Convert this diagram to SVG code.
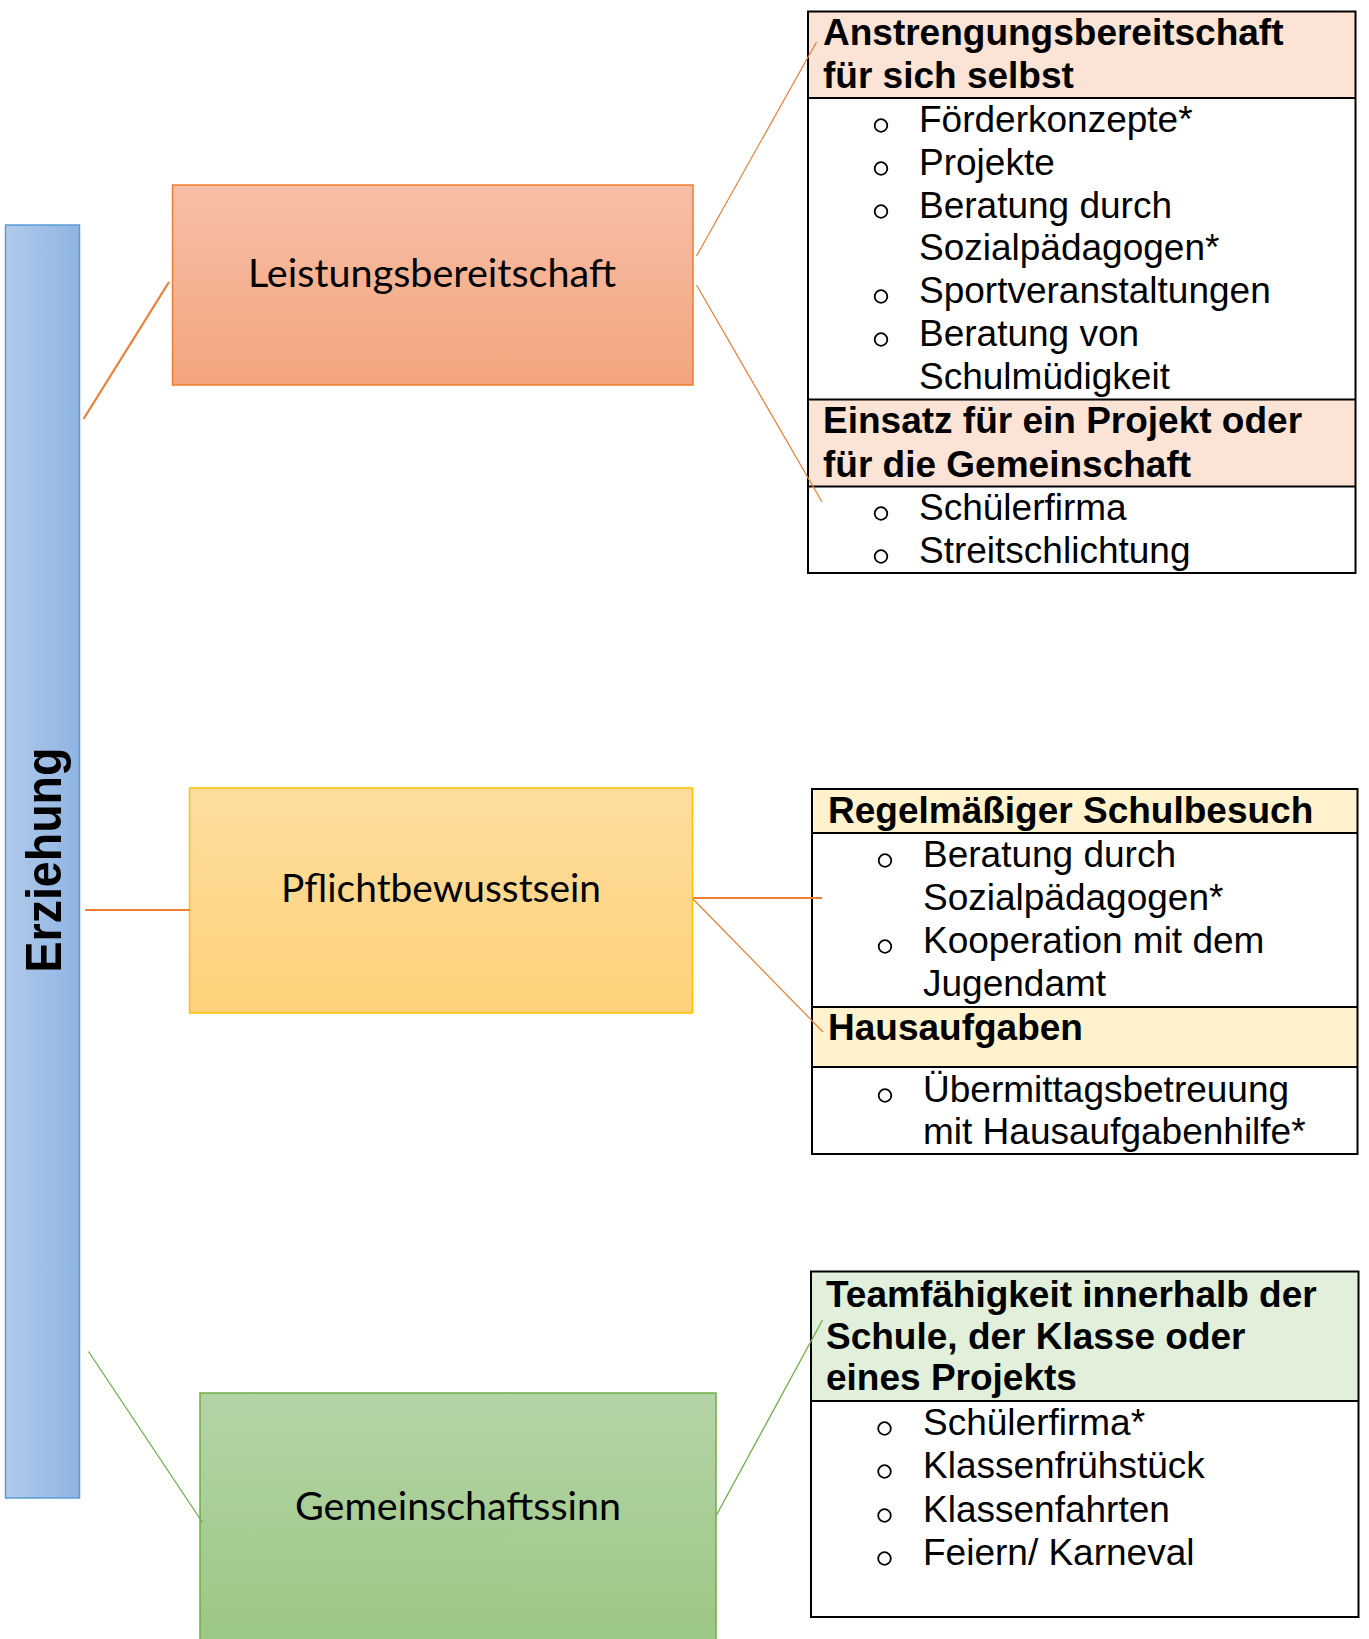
<svg xmlns="http://www.w3.org/2000/svg" width="1369" height="1639" viewBox="0 0 1369 1639">
<defs>
<linearGradient id="gBlue" x1="0" y1="0" x2="1" y2="0">
<stop offset="0" stop-color="#B1CAE9"/><stop offset="1" stop-color="#8EB4E3"/>
</linearGradient>
<linearGradient id="gOrange" x1="0" y1="0" x2="0" y2="1">
<stop offset="0" stop-color="#F7BFA6"/><stop offset="1" stop-color="#F4A47F"/>
</linearGradient>
<linearGradient id="gYellow" x1="0" y1="0" x2="0" y2="1">
<stop offset="0" stop-color="#FEDD9D"/><stop offset="1" stop-color="#FED27B"/>
</linearGradient>
<linearGradient id="gGreen" x1="0" y1="0" x2="0" y2="1">
<stop offset="0" stop-color="#B5D4A6"/><stop offset="1" stop-color="#9BC682"/>
</linearGradient>
</defs>
<style>
.node-label{font-family:Lato,"Open Sans",sans-serif;font-size:38px;fill:#000;text-anchor:middle}
.hdr{font-family:"Liberation Sans",Arial,sans-serif;font-size:37px;font-weight:bold;fill:#000}
.item{font-family:"Liberation Sans",Arial,sans-serif;font-size:37px;fill:#000}
.bul{fill:none;stroke:#000;stroke-width:1.8}
.tbl{fill:none;stroke:#000;stroke-width:2}
.co{stroke:#ED7D31;fill:none}
.cg{stroke:#70AD47;fill:none}
</style>
<rect width="1369" height="1639" fill="#FFFFFF"/>

<g id="erziehung">
<rect x="5.5" y="225" width="74" height="1273" fill="url(#gBlue)" stroke="#5B9BD5" stroke-width="1.5"/>
<text transform="translate(61,860) rotate(-90)" text-anchor="middle" font-family="'Liberation Sans',Arial,sans-serif" font-weight="bold" font-size="50" textLength="225" lengthAdjust="spacingAndGlyphs">Erziehung</text>
</g>

<g id="leistungsbereitschaft">
<rect x="172.5" y="185" width="520.5" height="200" fill="url(#gOrange)" stroke="#ED7D31" stroke-width="1.5"/>
<text class="node-label" x="432" y="287" textLength="368" lengthAdjust="spacingAndGlyphs">Leistungsbereitschaft</text>
</g>

<g id="pflichtbewusstsein">
<rect x="189.5" y="788" width="503" height="225" fill="url(#gYellow)" stroke="#FFC000" stroke-width="1.5"/>
<text class="node-label" x="441" y="902" textLength="320" lengthAdjust="spacingAndGlyphs">Pflichtbewusstsein</text>
</g>

<g id="gemeinschaftssinn">
<rect x="200" y="1393" width="516" height="262" fill="url(#gGreen)" stroke="#70AD47" stroke-width="1.5"/>
<text class="node-label" x="458" y="1520" textLength="326" lengthAdjust="spacingAndGlyphs">Gemeinschaftssinn</text>
</g>

<g id="table-leistung">
<rect x="808" y="11.5" width="547.5" height="86.5" fill="#FBE3D6"/>
<rect x="808" y="399.5" width="547.5" height="87" fill="#FBE3D6"/>
<rect class="tbl" x="808" y="11.5" width="547.5" height="561.5"/>
<line class="tbl" x1="808" y1="98" x2="1355.5" y2="98"/>
<line class="tbl" x1="808" y1="399.5" x2="1355.5" y2="399.5"/>
<line class="tbl" x1="808" y1="486.5" x2="1355.5" y2="486.5"/>
<text class="hdr" x="823" y="45">Anstrengungsbereitschaft</text>
<text class="hdr" x="823" y="88">für sich selbst</text>
<circle class="bul" cx="881" cy="125.5" r="6.3"/>
<text class="item" x="919" y="132">Förderkonzepte*</text>
<circle class="bul" cx="881" cy="168.5" r="6.3"/>
<text class="item" x="919" y="175">Projekte</text>
<circle class="bul" cx="881" cy="211.5" r="6.3"/>
<text class="item" x="919" y="218">Beratung durch</text>
<text class="item" x="919" y="260">Sozialpädagogen*</text>
<circle class="bul" cx="881" cy="296.5" r="6.3"/>
<text class="item" x="919" y="303">Sportveranstaltungen</text>
<circle class="bul" cx="881" cy="339.5" r="6.3"/>
<text class="item" x="919" y="346">Beratung von</text>
<text class="item" x="919" y="389">Schulmüdigkeit</text>
<text class="hdr" x="823" y="433">Einsatz für ein Projekt oder</text>
<text class="hdr" x="823" y="477">für die Gemeinschaft</text>
<circle class="bul" cx="881" cy="513.5" r="6.3"/>
<text class="item" x="919" y="520">Schülerfirma</text>
<circle class="bul" cx="881" cy="556.5" r="6.3"/>
<text class="item" x="919" y="563">Streitschlichtung</text>
</g>

<g id="table-pflicht">
<rect x="812" y="789" width="545.5" height="44" fill="#FFF2CC"/>
<rect x="812" y="1007" width="545.5" height="60" fill="#FFF2CC"/>
<rect class="tbl" x="812" y="789" width="545.5" height="365"/>
<line class="tbl" x1="812" y1="833" x2="1357.5" y2="833"/>
<line class="tbl" x1="812" y1="1007" x2="1357.5" y2="1007"/>
<line class="tbl" x1="812" y1="1067" x2="1357.5" y2="1067"/>
<text class="hdr" x="828" y="823">Regelmäßiger Schulbesuch</text>
<circle class="bul" cx="885" cy="860.5" r="6.3"/>
<text class="item" x="923" y="867">Beratung durch</text>
<text class="item" x="923" y="910">Sozialpädagogen*</text>
<circle class="bul" cx="885" cy="946.5" r="6.3"/>
<text class="item" x="923" y="953">Kooperation mit dem</text>
<text class="item" x="923" y="996">Jugendamt</text>
<text class="hdr" x="828" y="1040">Hausaufgaben</text>
<circle class="bul" cx="885" cy="1095.5" r="6.3"/>
<text class="item" x="923" y="1102">Übermittagsbetreuung</text>
<text class="item" x="923" y="1144">mit Hausaufgabenhilfe*</text>
</g>

<g id="table-gemeinschaft">
<rect x="811" y="1271.5" width="547.5" height="129.5" fill="#E2EFDA"/>
<rect class="tbl" x="811" y="1271.5" width="547.5" height="345.5"/>
<line class="tbl" x1="811" y1="1401" x2="1358.5" y2="1401"/>
<text class="hdr" x="826" y="1307">Teamfähigkeit innerhalb der</text>
<text class="hdr" x="826" y="1349">Schule, der Klasse oder</text>
<text class="hdr" x="826" y="1390">eines Projekts</text>
<circle class="bul" cx="884.5" cy="1428.5" r="6.3"/>
<text class="item" x="923" y="1435">Schülerfirma*</text>
<circle class="bul" cx="884.5" cy="1471.5" r="6.3"/>
<text class="item" x="923" y="1478">Klassenfrühstück</text>
<circle class="bul" cx="884.5" cy="1515.5" r="6.3"/>
<text class="item" x="923" y="1522">Klassenfahrten</text>
<circle class="bul" cx="884.5" cy="1558.5" r="6.3"/>
<text class="item" x="923" y="1565">Feiern/ Karneval</text>
</g>

<g id="connectors">
<line class="co" x1="83.5" y1="419" x2="169" y2="282" stroke-width="2.2"/>
<line class="co" x1="696.5" y1="256" x2="816.5" y2="42" stroke-width="1.2"/>
<line class="co" x1="696.5" y1="285" x2="822" y2="502" stroke-width="1.2"/>
<line class="co" x1="85" y1="910" x2="189.5" y2="910" stroke-width="2.2"/>
<line class="co" x1="693" y1="898" x2="822" y2="898" stroke-width="2"/>
<line class="co" x1="693" y1="899" x2="823" y2="1032" stroke-width="1.2"/>
<line class="cg" x1="88.5" y1="1351.5" x2="202.5" y2="1522.5" stroke-width="1.3"/>
<line class="cg" x1="716.5" y1="1515" x2="822.5" y2="1320" stroke-width="1.3"/>
</g>
</svg>
